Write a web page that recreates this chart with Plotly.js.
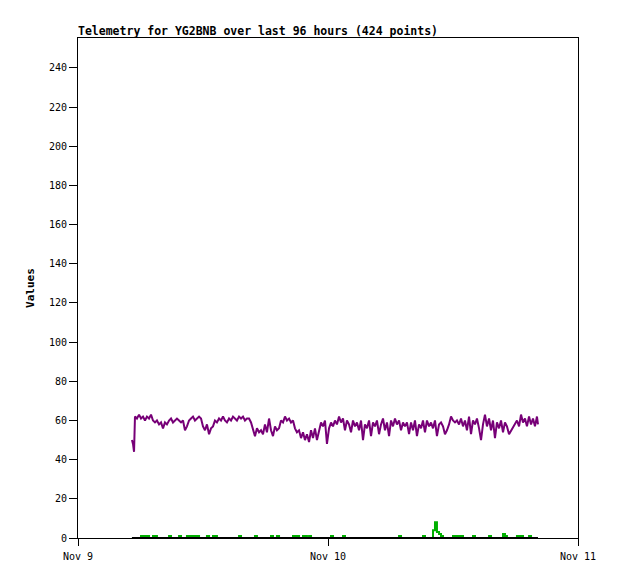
<!DOCTYPE html>
<html>
<head>
<meta charset="utf-8">
<script src="https://cdn.plot.ly/plotly-3.0.1.min.js"></script>
<style>html,body{margin:0;padding:0;background:#fff;}#chart{width:618px;height:579px;}</style>
</head>
<body>
<div id="chart"></div>
<script>
// Hours after Nov 9 00:00 for each sample
var hours = [5.18,5.28,5.38,5.47,5.66,5.86,6.05,6.24,6.43,6.62,6.82,7.01,7.20,7.39,7.58,7.78,7.97,8.16,8.35,8.54,
8.74,8.93,9.12,9.31,9.50,9.70,9.89,10.08,10.27,10.46,10.66,10.85,11.04,11.23,11.42,11.62,11.81,12.00,12.19,12.38,
12.58,12.77,12.96,13.15,13.34,13.54,13.73,13.92,14.11,14.30,14.50,14.69,14.88,15.07,15.26,15.46,15.65,15.84,16.03,16.22,
16.42,16.61,16.80,16.99,17.18,17.38,17.57,17.76,17.95,18.14,18.34,18.53,18.72,18.91,19.10,19.30,19.49,19.68,19.87,20.06,
20.26,20.45,20.64,20.83,21.02,21.22,21.41,21.60,21.79,21.98,22.18,22.37,22.56,22.75,22.94,23.14,23.33,23.52,23.71,23.90,
24.10,24.29,24.48,24.67,24.86,25.06,25.25,25.44,25.63,25.82,26.02,26.21,26.40,26.59,26.78,26.98,27.17,27.36,27.55,27.74,
27.94,28.13,28.32,28.51,28.70,28.90,29.09,29.28,29.47,29.66,29.86,30.05,30.24,30.43,30.62,30.82,31.01,31.20,31.39,31.58,
31.78,31.97,32.16,32.35,32.54,32.74,32.93,33.12,33.31,33.50,33.70,33.89,34.08,34.27,34.46,34.66,34.85,35.04,35.23,35.42,
35.62,35.81,36.00,36.19,36.38,36.58,36.77,36.96,37.15,37.34,37.54,37.73,37.92,38.11,38.30,38.50,38.69,38.88,39.07,39.26,
39.46,39.65,39.84,40.03,40.22,40.42,40.61,40.80,40.99,41.18,41.38,42.14,42.34,42.53,42.72,42.91,43.10,43.30,43.49,43.68,
43.87,44.06,44.16];

var purpleValues = [50,48,44,62,
61,63,61,62,60,62,61,63,60,59,60,58,59,56,59,58,60,61,59,60,
61,60,59,60,55,57,60,61,62,60,61,62,61,57,55,58,53,56,57,60,
59,61,60,62,60,59,61,60,62,61,60,62,61,62,60,61,61,59,55,52,
56,54,55,53,58,54,61,55,52,57,55,56,60,59,62,60,61,59,60,56,
54,55,51,54,50,53,49,55,51,56,50,54,59,57,60,48,56,59,57,60,
58,62,59,61,55,60,58,54,60,57,59,55,60,50,58,56,60,52,59,57,
60,53,58,61,55,59,52,60,57,61,58,60,55,59,57,59,53,59,55,60,
52,58,56,60,54,60,57,59,56,60,52,58,59,57,53,55,58,62,60,59,
60,58,61,57,60,55,62,53,60,58,61,56,50,58,63,57,61,55,60,51,
59,56,60,54,59,57,53,
60,57,63,59,61,57,62,58,61,57,62,
58];

var greenValues = [0,0,0,0,0,0,1,1,1,1,
0,0,1,1,0,0,0,0,0,0,
1,0,0,0,0,1,0,0,0,1,
1,1,0,1,1,0,0,0,0,1,
0,0,1,1,0,0,0,0,0,0,
0,0,0,0,0,1,0,0,0,0,
0,0,0,1,0,0,0,0,0,0,
0,1,0,0,1,0,0,0,0,0,
0,0,1,1,1,0,0,1,1,0,
1,0,0,0,0,0,0,0,0,0,
0,1,0,0,0,0,0,1,0,0,
0,0,0,0,0,0,0,0,0,0,
0,0,0,0,0,0,0,0,0,0,
0,0,0,0,0,1,0,0,0,0,
0,0,0,0,0,0,0,1,0,0,
0,0,4,8,3,2,1,0,0,0,
0,0,1,0,1,0,1,0,0,0,
0,0,1,0,0,0,0,0,0,0,
1,0,0,0,0,0,0,2,1,0,
0,1,0,1,0,0,0,1,0,0,
0,0,0];

var zeroValues = [0,0];

var xTickLabels = ["Nov 9","Nov 10","Nov 11"];
var titleText = "Telemetry for YG2BNB over last 96 hours (424 points)";

var base = Date.UTC(2024,10,9);
function toMs(h){ return base + h*3600000; }
var xs = hours.map(toMs);

var traces = [
  {x: xs, y: purpleValues, type:'scatter', mode:'lines', line:{color:'#770077', width:2}, hoverinfo:'skip'},
  {x: xs, y: greenValues, type:'scatter', mode:'lines', line:{color:'#00b000', width:2, shape:'hv'}, hoverinfo:'skip'},
  {x: [xs[0], xs[xs.length-1]], y: zeroValues, type:'scatter', mode:'lines', line:{color:'#000000', width:2}, hoverinfo:'skip'}
];

var mono = '"DejaVu Sans Mono", monospace';
var layout = {
  width: 618, height: 579,
  margin: {l:78, r:40, t:38, b:41},
  paper_bgcolor:'#ffffff', plot_bgcolor:'#ffffff',
  showlegend:false,
  title: {text: '<b>'+titleText+'</b>', x: 78/618, xanchor:'left', xref:'container', y: 1-31/579, yanchor:'middle', yref:'container', font:{family:mono, size:11.5, color:'#000'}},
  xaxis: {
    type:'date', range:[toMs(0), toMs(48)],
    tickvals:[toMs(0), toMs(24), toMs(48)], ticktext: xTickLabels,
    showgrid:false, zeroline:false, showline:true, mirror:true, linecolor:'#000', linewidth:1,
    ticks:'outside', ticklen:7, tickcolor:'#000', tickwidth:1, ticklabelstandoff:2,
    tickfont:{family:mono, size:10, color:'#000'}
  },
  yaxis: {
    range:[0, 255.3], tickmode:'linear', tick0:0, dtick:20,
    showgrid:false, zeroline:false, showline:true, mirror:true, linecolor:'#000', linewidth:1,
    ticks:'outside', ticklen:8, tickcolor:'#000', tickwidth:1,
    tickfont:{family:mono, size:10, color:'#000'},
    title:{text:'<b>Values</b>', font:{family:mono, size:11, color:'#000'}, standoff:12}
  }
};
Plotly.newPlot('chart', traces, layout, {staticPlot:true, displayModeBar:false});
</script>
</body>
</html>
